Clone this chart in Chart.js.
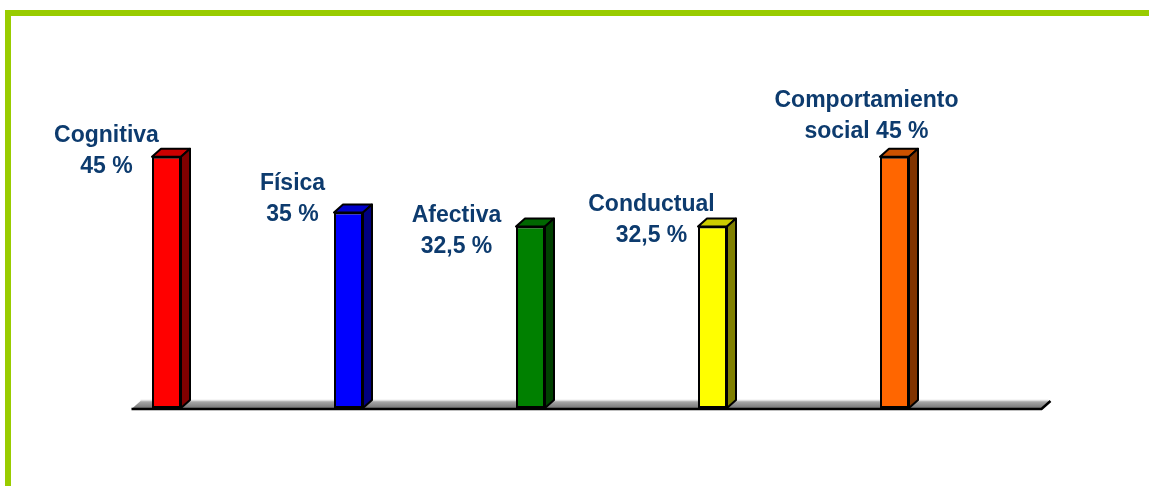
<!DOCTYPE html>
<html>
<head>
<meta charset="utf-8">
<script src="https://cdn.jsdelivr.net/npm/chart.js@4/dist/chart.umd.min.js"></script>
<style>
    html, body { margin: 0; padding: 0; background: #fff; }
    #wrap { position: relative; width: 1149px; height: 486px; overflow: hidden; }
    #frame {
        position: absolute; left: 5px; top: 10px; right: -10px; bottom: -10px;
        border-top: 6px solid #99cc00; border-left: 6px solid #99cc00;
    }
    canvas { position: absolute; left: 0; top: 0; }
</style>
</head>
<body>
<div id="wrap">
    <div id="frame"></div>
    <canvas id="chart" width="1149" height="486"></canvas>
</div>
<script>
// Data
const categoryLines = [['Cognitiva'], ['Física'], ['Afectiva'], ['Conductual'], ['Comportamiento', 'social']];
const values = [45, 35, 32.5, 32.5, 45];
const frontColors = ['#ff0000', '#0000ff', '#008000', '#ffff00', '#ff6600'];
const topColors = ['#cc0000', '#0000cc', '#006600', '#cccc00', '#cc5200'];
const sideColors = ['#800000', '#000080', '#004000', '#808000', '#803300'];

// Label placement relative to bar (center offset, line-2 baseline below bar top)
const labelDx = [-60, -56, -74, -61, -28];
const labelDy = [16, 8, 26, 15, -19];

const DEPTH_X = 9;
const DEPTH_Y = 8;

function fmtPct(v) {
    return String(v).replace('.', ',') + ' %';
}

function labelFor(i) {
    const lines = categoryLines[i].slice();
    if (lines.length > 1) {
        lines[lines.length - 1] += ' ' + fmtPct(values[i]);
    } else {
        lines.push(fmtPct(values[i]));
    }
    return lines;
}

// Floor under the bars
const floorPlugin = {
    id: 'floor',
    beforeDatasetsDraw(chart) {
        const { ctx, chartArea } = chart;
        const base = chart.scales.y.getPixelForValue(0);
        const left = chartArea.left + 56;
        const right = chartArea.right + 56;
        ctx.save();
        const g = ctx.createLinearGradient(0, base - DEPTH_Y, 0, base);
        g.addColorStop(0, '#b4b4b4');
        g.addColorStop(1, '#777777');
        ctx.beginPath();
        ctx.moveTo(left, base + 1);
        ctx.lineTo(left + DEPTH_X, base + 1 - DEPTH_Y);
        ctx.lineTo(right + DEPTH_X, base + 1 - DEPTH_Y);
        ctx.lineTo(right, base + 1);
        ctx.closePath();
        ctx.fillStyle = g;
        ctx.fill();
        ctx.strokeStyle = '#dcdcdc';
        ctx.lineWidth = 1.5;
        ctx.beginPath();
        ctx.moveTo(left + DEPTH_X, base + 0.5 - DEPTH_Y);
        ctx.lineTo(right + DEPTH_X - 2, base + 0.5 - DEPTH_Y);
        ctx.stroke();
        ctx.strokeStyle = '#000';
        ctx.lineWidth = 2.5;
        ctx.beginPath();
        ctx.moveTo(left, base + 1);
        ctx.lineTo(right, base + 1);
        ctx.lineTo(right + DEPTH_X, base + 1 - DEPTH_Y);
        ctx.stroke();
        ctx.restore();
    }
};

// Top and side faces + labels
const bar3dPlugin = {
    id: 'bar3d',
    afterDatasetsDraw(chart) {
        const { ctx } = chart;
        const meta = chart.getDatasetMeta(0);
        ctx.save();
        ctx.lineWidth = 2;
        ctx.lineJoin = 'round';
        ctx.strokeStyle = '#000';
        meta.data.forEach((bar, i) => {
            const { x, y, base, width } = bar.getProps(['x', 'y', 'base', 'width'], true);
            const l = x - width / 2;
            const r = x + width / 2;
            // top face
            ctx.beginPath();
            ctx.moveTo(l, y);
            ctx.lineTo(l + DEPTH_X, y - DEPTH_Y);
            ctx.lineTo(r + DEPTH_X, y - DEPTH_Y);
            ctx.lineTo(r, y);
            ctx.closePath();
            ctx.fillStyle = topColors[i];
            ctx.fill();
            ctx.stroke();
            // side face
            ctx.beginPath();
            ctx.moveTo(r, y);
            ctx.lineTo(r + DEPTH_X, y - DEPTH_Y);
            ctx.lineTo(r + DEPTH_X, base - DEPTH_Y);
            ctx.lineTo(r, base);
            ctx.closePath();
            ctx.fillStyle = sideColors[i];
            ctx.fill();
            ctx.stroke();
        });

        ctx.font = 'bold 23px "Liberation Sans", Arial, sans-serif';
        ctx.fillStyle = '#0d3b6e';
        ctx.textAlign = 'center';
        ctx.textBaseline = 'alphabetic';
        meta.data.forEach((bar, i) => {
            const lines = labelFor(i);
            const cx = bar.x + labelDx[i];
            const last = bar.y + labelDy[i];
            lines.forEach((t, k) => {
                ctx.fillText(t, cx, last - (lines.length - 1 - k) * 31);
            });
        });
        ctx.restore();
    }
};

new Chart(document.getElementById('chart'), {
    type: 'bar',
    data: {
        labels: categoryLines.map(l => l.join(' ')),
        datasets: [{
            data: values,
            backgroundColor: frontColors,
            borderColor: '#000',
            borderWidth: 2,
            borderSkipped: false,
            barPercentage: 29 / 182,
            categoryPercentage: 1
        }]
    },
    options: {
        responsive: false,
        animation: false,
        layout: { padding: { left: 75.5, right: 163.5, top: 73, bottom: 78 } },
        plugins: {
            legend: { display: false },
            tooltip: { enabled: false }
        },
        scales: {
            x: { display: false },
            y: { display: false, min: 0, max: 60 }
        }
    },
    plugins: [floorPlugin, bar3dPlugin]
});
</script>
</body>
</html>
